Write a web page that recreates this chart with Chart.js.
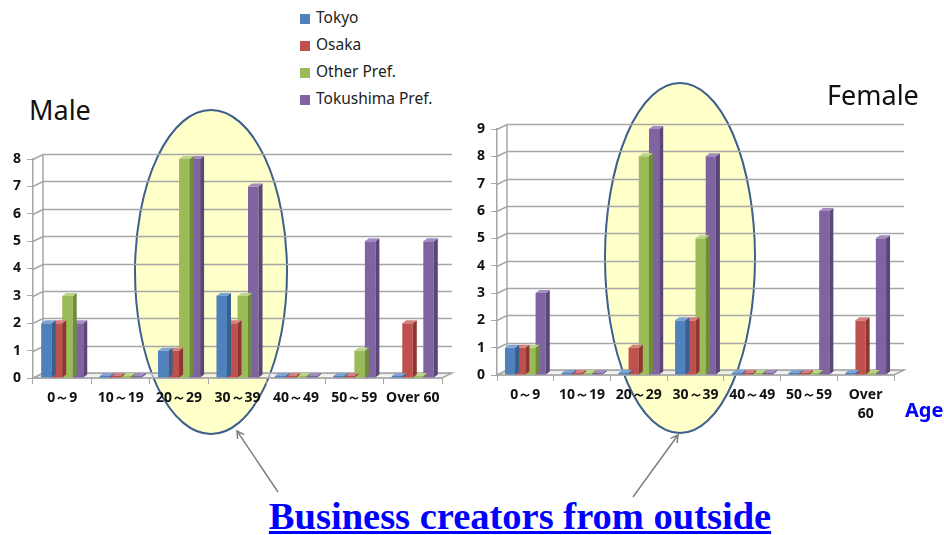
<!DOCTYPE html>
<html>
<head>
<meta charset="utf-8">
<script src="https://cdn.jsdelivr.net/npm/chart.js@4.4.1/dist/chart.umd.min.js"></script>
<style>
  body { margin: 0; background: #fff; font-family: "Noto Sans", sans-serif; }
  #page { position: relative; width: 944px; height: 535px; overflow: hidden; }
  #bg { position: absolute; left: 0; top: 0; z-index: 0; }
  .box { position: absolute; z-index: 1; }
  #legend { position: absolute; left: 300px; top: 6px; z-index: 2; font-size: 15.5px; color: #222; }
  #legend div { height: 27px; line-height: 23px; }
  #legend span { display: inline-block; width: 10px; height: 10px; margin-right: 6px; vertical-align: -1px; }
  .title { position: absolute; z-index: 2; font-size: 27px; color: #111; }
  #age { position: absolute; left: 905px; top: 396px; z-index: 2; color: #0000ff; font-weight: bold; font-size: 20px; }
  #caption { position: absolute; left: 0; width: 1040px; text-align: center; top: 494px; z-index: 2;
    font-family: "Liberation Serif", serif; font-weight: bold; font-size: 38.5px; color: #0000ff; text-decoration: underline; }
</style>
</head>
<body>
<div id="page">
  <svg id="bg" width="944" height="535">
    <ellipse cx="211" cy="272" rx="76" ry="162" fill="#ffffc9" stroke="#3d5f8c" stroke-width="2"/>
    <ellipse cx="680" cy="258" rx="75" ry="175" fill="#ffffc9" stroke="#3d5f8c" stroke-width="2"/>
    <defs>
      <marker id="ah" markerWidth="10" markerHeight="10" refX="8" refY="5" orient="auto" markerUnits="userSpaceOnUse">
        <path d="M1,1 L8,5 L1,9" fill="none" stroke="#808080" stroke-width="1.5"/>
      </marker>
    </defs>
    <line x1="278" y1="492" x2="237" y2="431" stroke="#808080" stroke-width="1.5" marker-end="url(#ah)"/>
    <line x1="633" y1="497" x2="678" y2="435" stroke="#808080" stroke-width="1.5" marker-end="url(#ah)"/>
  </svg>
  <div id="legend"></div>
  <div class="title" style="left:29px; top:91px;">Male</div>
  <div class="title" style="left:827px; top:76px;">Female</div>
  <div id="age">Age</div>
  <div class="box" style="left:0; top:140px;"><canvas id="male" width="462" height="270"></canvas></div>
  <div class="box" style="left:460px; top:110px;"><canvas id="female" width="484" height="320"></canvas></div>
  <div id="caption">Business creators from outside</div>
</div>
<script>
const seriesNames = ['Tokyo', 'Osaka', 'Other Pref.', 'Tokushima Pref.'];
const seriesColors = ['#4f81bd', '#c0504d', '#9bbb59', '#8064a2'];
const sideColors = ['#36608f', '#8e3532', '#6f8c3a', '#5b4678'];
const topColors = ['#7fa4d3', '#d5807e', '#bbd58a', '#a28cc0'];

const maleCategories = ['0～9', '10～19', '20～29', '30～39', '40～49', '50～59', 'Over 60'];
const femaleCategories = ['0～9', '10～19', '20～29', '30～39', '40～49', '50～59', ['Over', '60']];

const maleTokyo = [2, 0, 1, 3, 0, 0, 0];
const maleOsaka = [2, 0, 1, 2, 0, 0, 2];
const maleOther = [3, 0, 8, 3, 0, 1, 0];
const maleTokushima = [2, 0, 8, 7, 0, 5, 5];

const femaleTokyo = [1, 0, 0, 2, 0, 0, 0];
const femaleOsaka = [1, 0, 1, 2, 0, 0, 2];
const femaleOther = [1, 0, 8, 5, 0, 0, 0];
const femaleTokushima = [3, 0, 9, 8, 0, 6, 5];

const maleTicks = [0, 1, 2, 3, 4, 5, 6, 7, 8];
const femaleTicks = [0, 1, 2, 3, 4, 5, 6, 7, 8, 9];

// legend
const legend = document.getElementById('legend');
seriesNames.forEach((name, i) => {
    const row = document.createElement('div');
    row.innerHTML = `<span style="background:${seriesColors[i]}"></span>${name}`;
    legend.appendChild(row);
});

const DX = 10, DY = 5;   // wall depth
const BD = 4, BDY = 3;   // bar depth

// slanted back wall + floor, drawn before the bars
const wall3d = {
    id: 'wall3d',
    beforeDatasetsDraw(chart) {
        const { ctx, chartArea: a, scales: { y } } = chart;
        ctx.save();
        ctx.strokeStyle = '#a6a6a6';
        ctx.lineWidth = 1.5;
        y.ticks.forEach(t => {
            const py = Math.round(y.getPixelForValue(t.value)) + 0.5;
            ctx.beginPath();
            ctx.moveTo(a.left, py);
            ctx.lineTo(a.left + DX, py - DY);
            ctx.lineTo(a.right + DX, py - DY);
            ctx.stroke();
        });
        ctx.beginPath();
        ctx.moveTo(a.left + DX, a.top - DY);
        ctx.lineTo(a.left + DX, a.bottom - DY);
        ctx.stroke();
        // floor
        ctx.fillStyle = 'rgba(235,235,235,0.6)';
        ctx.beginPath();
        ctx.moveTo(a.left, a.bottom);
        ctx.lineTo(a.left + DX, a.bottom - DY);
        ctx.lineTo(a.right + DX, a.bottom - DY);
        ctx.lineTo(a.right, a.bottom);
        ctx.closePath();
        ctx.fill();
        ctx.stroke();
        ctx.restore();
    }
};

// side and top faces for each bar
const bars3d = {
    id: 'bars3d',
    afterDatasetDraw(chart, args) {
        const { ctx } = chart;
        const i = args.index;
        ctx.save();
        args.meta.data.forEach(bar => {
            const l = bar.x - bar.width / 2, r = bar.x + bar.width / 2;
            const t = Math.min(bar.y, bar.base), b = Math.max(bar.y, bar.base);
            ctx.fillStyle = sideColors[i];
            ctx.beginPath();
            ctx.moveTo(r, t);
            ctx.lineTo(r + BD, t - BDY);
            ctx.lineTo(r + BD, b - BDY);
            ctx.lineTo(r, b);
            ctx.closePath();
            ctx.fill();
            ctx.fillStyle = topColors[i];
            ctx.beginPath();
            ctx.moveTo(l, t);
            ctx.lineTo(l + BD, t - BDY);
            ctx.lineTo(r + BD, t - BDY);
            ctx.lineTo(r, t);
            ctx.closePath();
            ctx.fill();
        });
        ctx.restore();
    }
};

function makeChart(id, labels, data, ticks, yWidth, xHeight, rightPad) {
    const ctx = document.getElementById(id).getContext('2d');
    return new Chart(ctx, {
        type: 'bar',
        data: {
            labels: labels,
            datasets: data.map((vals, i) => ({
                label: seriesNames[i],
                data: vals,
                backgroundColor: seriesColors[i],
                minBarLength: 2
            }))
        },
        options: {
            responsive: false,
            animation: false,
            layout: { padding: { top: 19, right: rightPad, left: 0, bottom: 0 } },
            datasets: { bar: { barPercentage: 1, categoryPercentage: 0.72 } },
            plugins: { legend: { display: false }, tooltip: { enabled: false } },
            scales: {
                x: {
                    grid: { display: true, drawOnChartArea: false, drawTicks: true, tickLength: 6, color: '#a6a6a6', offset: true },
                    border: { color: '#a6a6a6', width: 1.5 },
                    ticks: { color: '#111', font: { family: 'Noto Sans', weight: 'bold', size: 14, lineHeight: 1.35 }, maxRotation: 0, autoSkip: false, padding: 5 },
                    afterFit: s => { s.height = xHeight; }
                },
                y: {
                    min: 0,
                    max: ticks[ticks.length - 1],
                    afterBuildTicks: s => { s.ticks = ticks.map(v => ({ value: v })); },
                    grid: { display: true, drawOnChartArea: false, drawTicks: true, tickLength: 6, color: '#a6a6a6' },
                    border: { color: '#a6a6a6', width: 1.5 },
                    ticks: { color: '#111', font: { family: 'Noto Sans', weight: 'bold', size: 14 }, padding: 6 },
                    afterFit: s => { s.width = yWidth; }
                }
            }
        },
        plugins: [wall3d, bars3d]
    });
}

makeChart('male', maleCategories, [maleTokyo, maleOsaka, maleOther, maleTokushima], maleTicks, 33, 32, 20);
makeChart('female', femaleCategories, [femaleTokyo, femaleOsaka, femaleOther, femaleTokushima], femaleTicks, 37, 55, 50);
</script>
</body>
</html>
